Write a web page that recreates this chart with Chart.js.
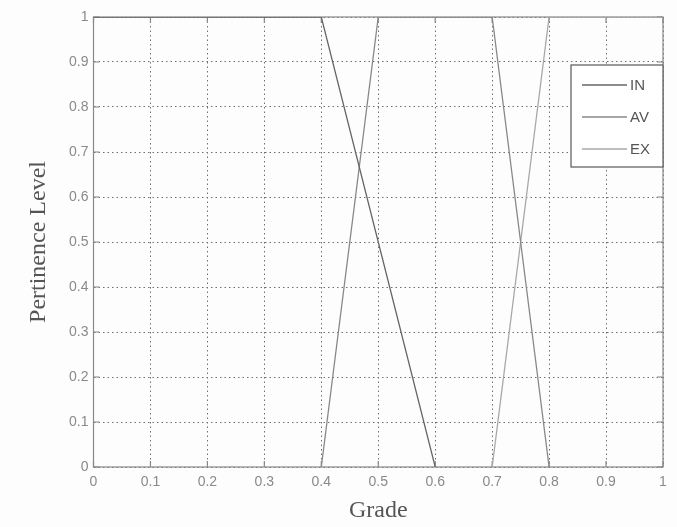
<!DOCTYPE html>
<html>
<head>
<meta charset="utf-8">
<script src="https://cdn.jsdelivr.net/npm/chart.js@4/dist/chart.umd.min.js"></script>
<style>
  html, body { margin:0; padding:0; background:#fdfdfd; }
  #wrap { width:677px; height:527px; }
</style>
</head>
<body>
<div id="wrap"><canvas id="chart" width="677" height="527"></canvas></div>
<script>
// membership functions (Grade -> Pertinence Level)
const inGrade = [0, 0.4, 0.6];
const inLevel = [1, 1, 0];
const avGrade = [0.4, 0.5, 0.7, 0.8];
const avLevel = [0, 1, 1, 0];
const exGrade = [0.7, 0.8, 1];
const exLevel = [0, 1, 1];
const seriesNames = ['IN', 'AV', 'EX'];
const seriesColors = ['#666666', '#888888', '#a8a8a8'];

function toPoints(xs, ys){ return xs.map((x, i) => ({ x: x, y: ys[i] })); }
function fmt(v){ return String(+v.toFixed(1)); }

// page background
const bgPlugin = {
  id: 'bg',
  beforeDraw(c){ const ctx = c.ctx; ctx.save(); ctx.fillStyle = '#fdfdfd'; ctx.fillRect(0, 0, c.width, c.height); ctx.restore(); }
};

// solid box round the plot and small inward tick marks, like matlab
const boxPlugin = {
  id: 'box',
  beforeDatasetsDraw(c){
    const ctx = c.ctx, a = c.chartArea, xs = c.scales.x, ys = c.scales.y;
    ctx.save();
    ctx.strokeStyle = '#888'; ctx.lineWidth = 1.2; ctx.setLineDash([]);
    ctx.strokeRect(a.left, a.top, a.right - a.left, a.bottom - a.top);
    ctx.beginPath();
    xs.ticks.forEach(t => { const p = xs.getPixelForValue(t.value);
      ctx.moveTo(p, a.bottom); ctx.lineTo(p, a.bottom - 6);
      ctx.moveTo(p, a.top); ctx.lineTo(p, a.top + 6); });
    ys.ticks.forEach(t => { const p = ys.getPixelForValue(t.value);
      ctx.moveTo(a.left, p); ctx.lineTo(a.left + 6, p);
      ctx.moveTo(a.right, p); ctx.lineTo(a.right - 6, p); });
    ctx.stroke();
    ctx.restore();
  }
};

// legend box in the upper right of the plot
const legendPlugin = {
  id: 'boxLegend',
  afterDatasetsDraw(c){
    const ctx = c.ctx, a = c.chartArea;
    const w = 92, h = 102, x0 = a.right - w, y0 = 65;
    ctx.save();
    ctx.fillStyle = '#ffffff'; ctx.fillRect(x0, y0, w, h);
    ctx.strokeStyle = '#666'; ctx.lineWidth = 1.3; ctx.strokeRect(x0, y0, w, h);
    ctx.font = '15px "Liberation Sans", Arial, sans-serif';
    ctx.textBaseline = 'middle';
    c.data.datasets.forEach((ds, i) => {
      const y = y0 + 20 + i * 32;
      ctx.strokeStyle = ds.borderColor; ctx.lineWidth = 1.5;
      ctx.beginPath(); ctx.moveTo(x0 + 11, y); ctx.lineTo(x0 + 56, y); ctx.stroke();
      ctx.fillStyle = '#555'; ctx.fillText(ds.label, x0 + 59, y + 1);
    });
    ctx.restore();
  }
};

Chart.defaults.font.family = '"Liberation Sans", Arial, sans-serif';

const chart = new Chart(document.getElementById('chart').getContext('2d'), {
  type: 'line',
  data: {
    datasets: [
      { label: seriesNames[0], data: toPoints(inGrade, inLevel), borderColor: seriesColors[0] },
      { label: seriesNames[1], data: toPoints(avGrade, avLevel), borderColor: seriesColors[1] },
      { label: seriesNames[2], data: toPoints(exGrade, exLevel), borderColor: seriesColors[2] }
    ].map(d => Object.assign(d, { borderWidth: 1.3, pointRadius: 0, tension: 0, fill: false }))
  },
  options: {
    responsive: false,
    animation: false,
    layout: { padding: { top: 17, right: 14, left: 0, bottom: 0 } },
    plugins: { legend: { display: false }, tooltip: { enabled: false } },
    scales: {
      x: {
        type: 'linear', min: 0, max: 1,
        ticks: { stepSize: 0.1, callback: fmt, color: '#8a8a8a', font: { size: 14 }, padding: 7, maxRotation: 0 },
        grid: { color: '#6f6f6f', lineWidth: 1, drawTicks: false },
        border: { display: false, dash: [1.5, 3] },
        title: { display: true, text: 'Grade', color: '#555',
          font: { family: '"Liberation Serif", "Times New Roman", serif', size: 24 }, padding: { top: 0, bottom: 2 } },
        afterFit(s){ s.height = 60; }
      },
      y: {
        min: 0, max: 1,
        ticks: { stepSize: 0.1, callback: fmt, color: '#8a8a8a', font: { size: 14 }, padding: 5 },
        grid: { color: '#6f6f6f', lineWidth: 1, drawTicks: false },
        border: { display: false, dash: [1.5, 3] },
        title: { display: true, text: 'Pertinence Level', color: '#555',
          font: { family: '"Liberation Serif", "Times New Roman", serif', size: 24 }, padding: { top: 24, bottom: 0 } },
        afterFit(s){ s.width = 93.5; }
      }
    }
  },
  plugins: [bgPlugin, boxPlugin, legendPlugin]
});
</script>
</body>
</html>
